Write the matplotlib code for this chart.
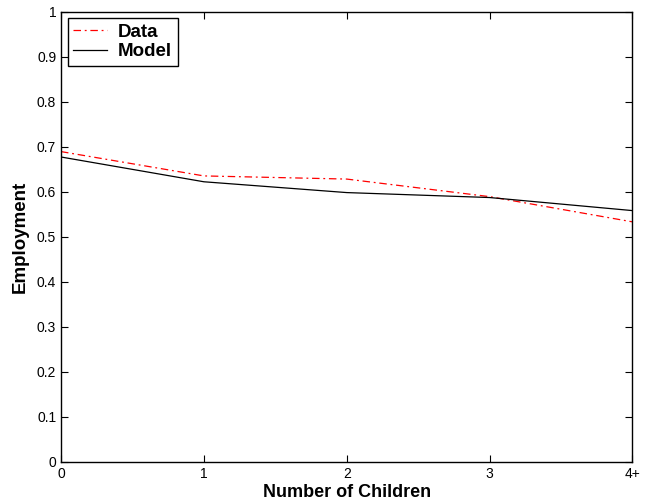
import matplotlib
matplotlib.use("Agg")
import matplotlib.pyplot as plt

plt.rcParams['font.family'] = ['Liberation Sans', 'DejaVu Sans']

children = [0, 1, 2, 3, 4]
tick_labels = ['0', '1', '2', '3', '4+']
data_emp = [0.689, 0.635, 0.628, 0.589, 0.533]
model_emp = [0.677, 0.622, 0.598, 0.587, 0.558]

fig = plt.figure(figsize=(6.45, 5.01), dpi=100)
ax = fig.add_axes([0.0946, 0.078, 0.886, 0.899])

ax.plot(children, data_emp, color='red', linestyle=(0, (6, 3, 1.5, 3)), linewidth=0.9, label='Data')
ax.plot(children, model_emp, color='black', linestyle='-', linewidth=0.9, label='Model')

ax.set_xlim(0, 4)
ax.set_ylim(0, 1)
ax.set_xticks(children)
ax.set_xticklabels(tick_labels)
ax.set_yticks([i / 10 for i in range(11)])
ax.set_yticklabels(['0', '0.1', '0.2', '0.3', '0.4', '0.5', '0.6', '0.7', '0.8', '0.9', '1'])
ax.tick_params(direction='in', top=True, right=True, labelsize=10, length=5)
for s in ax.spines.values():
    s.set_linewidth(1.0)

ax.set_xlabel('Number of Children', fontsize=13, fontweight='bold', labelpad=2)
ax.set_ylabel('Employment', fontsize=13.5, fontweight='bold', labelpad=6)

leg = ax.legend(loc='upper left', prop={'weight': 'bold', 'size': 13.5}, fancybox=False,
                edgecolor='black', framealpha=1, borderaxespad=0.35, handlelength=1.8,
                handletextpad=0.6, borderpad=0.3, labelspacing=0.12)
leg.get_frame().set_linewidth(1.0)

fig.savefig('out.png', dpi=100)
